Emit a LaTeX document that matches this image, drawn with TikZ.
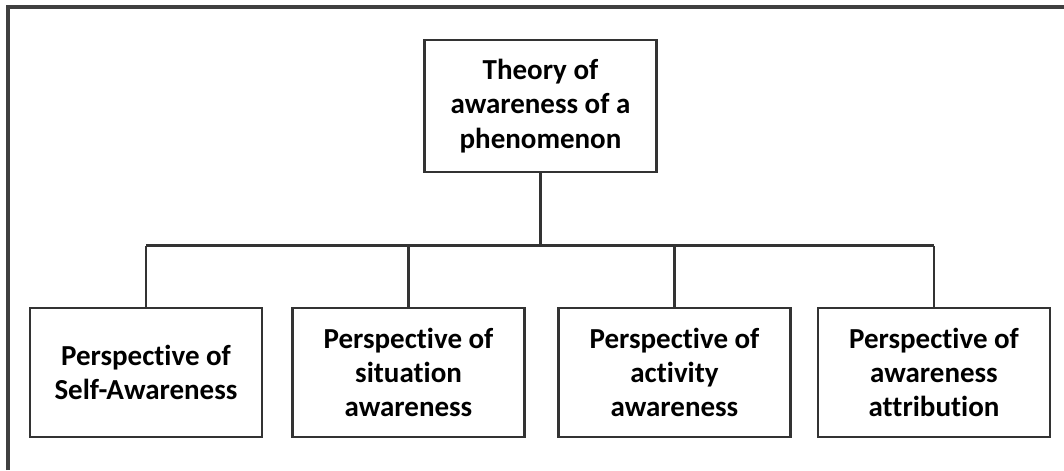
\documentclass[tikz,border=0pt]{standalone}
\usepackage{fontspec}
\setmainfont{Carlito}[Ligatures=NoCommon]
\begin{document}
\begin{tikzpicture}[x=0.02cm, y=-0.02cm,
		box/.style={draw=black!80, line width=1.4pt, minimum width=232*0.02cm, minimum height=129*0.02cm, align=center, inner sep=0pt, font=\bfseries\fontsize{16.5}{19.5}\selectfont},
		link/.style={draw=black!80, line width=1.4pt}]
		\useasboundingbox (0,0) rectangle (1064,470);

		\draw[black!75, line width=1.8pt] (8,470) -- (8,7) -- (1064,7);

		\node[box, minimum height=132*0.02cm] (theory) at (540.5,106) {Theory of\\awareness of a\\phenomenon};

		\node[box] (self) at (146,372.5) {Perspective of\\Self-Awareness};
		\node[box] (situation) at (408.5,372.5) {Perspective of\\situation\\awareness};
		\node[box] (activity) at (674.5,372.5) {Perspective of\\activity\\awareness};
		\node[box] (attribution) at (934,372.5) {Perspective of\\awareness\\attribution};

		\coordinate (bus) at (540,245.5);

		\draw[link] (theory.south) -- (theory.south |- bus);
		\draw[link] (self.north |- bus) -- (attribution.north |- bus);
		\draw[link] (self.north) -- (self.north |- bus);
		\draw[link] (situation.north) -- (situation.north |- bus);
		\draw[link] (activity.north) -- (activity.north |- bus);
		\draw[link] (attribution.north) -- (attribution.north |- bus);

	\end{tikzpicture}
\end{document}
